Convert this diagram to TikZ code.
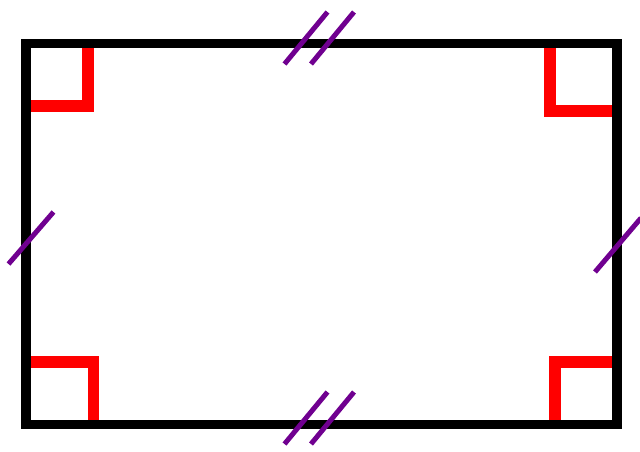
\documentclass[tikz,border=0pt]{standalone}
\definecolor{tickpurple}{RGB}{112,0,144}
\begin{document}
\begin{tikzpicture}[x=1pt,y=-1pt,
  rightangle/.style={draw=red,line width=11.5pt,line join=miter},
  side/.style={draw=black,line width=9.5pt,line join=miter},
  tick/.style={draw=tickpurple,line width=5pt}]
\useasboundingbox (0,0) rectangle (640,451);
\clip (0,0) rectangle (640,451);
% corner coordinates
\coordinate (tl) at (26,43.5);
\coordinate (tr) at (617,43.5);
\coordinate (br) at (617,424.5);
\coordinate (bl) at (26,424.5);
% right angle marks
\draw[rightangle] (88,39.5) -- (88,106) -- (26,106);
\draw[rightangle] (550,39.5) -- (550,111) -- (621,111);
\draw[rightangle] (26,362) -- (93.5,362) -- (93.5,428.5);
\draw[rightangle] (555,428.5) -- (555,362) -- (621,362);
% rectangle
\draw[side] (tl) -- (tr) -- (br) -- (bl) -- cycle;
% tick marks
\draw[tick] (284.5,64) -- (327.5,12);
\draw[tick] (311,64) -- (354,12);
\draw[tick] (284.5,444) -- (327.5,392);
\draw[tick] (311,444) -- (354,392);
\draw[tick] (8.5,264) -- (53.5,212);
\draw[tick] (595,272) -- (641,218);
\end{tikzpicture}
\end{document}
